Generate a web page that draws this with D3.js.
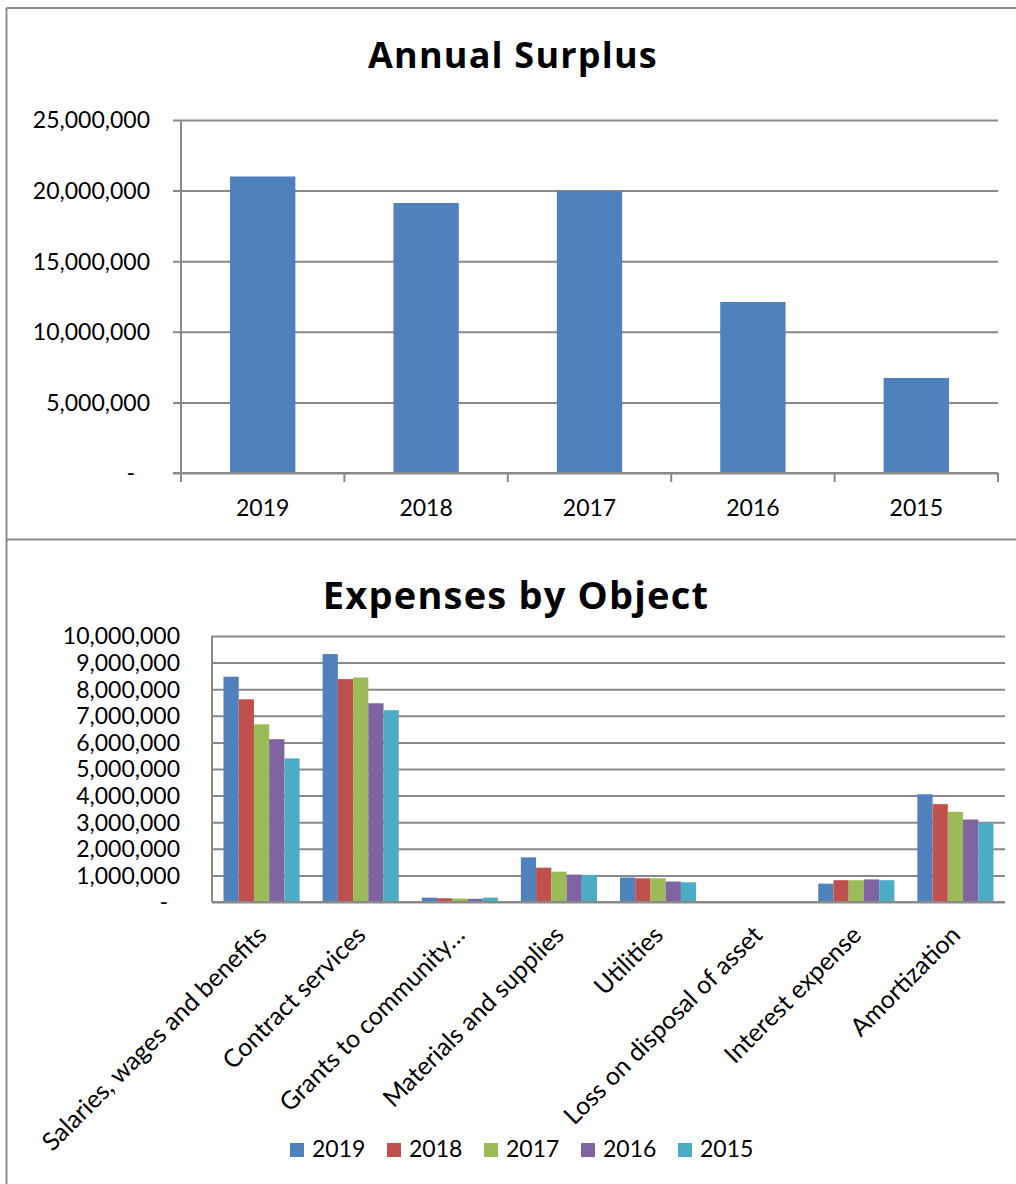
<!DOCTYPE html>
<html>
<head>
<meta charset="utf-8">
<script src="https://cdn.jsdelivr.net/npm/d3@7"></script>
<style>
  body { margin: 0; background: #fff; }
  text { font-family: Lato, "Open Sans", sans-serif; fill: #000; }
  .title { font-family: "Open Sans", Lato, sans-serif; font-weight: 700; }
</style>
</head>
<body>
<svg id="chart" width="1016" height="1184"></svg>
<script>
// ---- Annual Surplus ----
const surplusYears = ["2019", "2018", "2017", "2016", "2015"];
const surplusValues = [21000000, 19120000, 19970000, 12110000, 6730000];
const surplusTicks = [0, 5000000, 10000000, 15000000, 20000000, 25000000];

// ---- Expenses by Object ----
const expenseCategories = [
  "Salaries, wages and benefits",
  "Contract services",
  "Grants to community…",
  "Materials and supplies",
  "Utilities",
  "Loss on disposal of asset",
  "Interest expense",
  "Amortization"
];
const seriesNames = ["2019", "2018", "2017", "2016", "2015"];
const seriesColors = ["#4F81BD", "#C0504D", "#9BBB59", "#8064A2", "#4BACC6"];
const expenses2019 = [8470000, 9320000, 165000, 1680000, 920000, 0, 690000, 4050000];
const expenses2018 = [7620000, 8380000, 140000, 1290000, 890000, 0, 820000, 3680000];
const expenses2017 = [6680000, 8440000, 130000, 1140000, 890000, 0, 820000, 3390000];
const expenses2016 = [6120000, 7470000, 120000, 1030000, 770000, 0, 850000, 3100000];
const expenses2015 = [5400000, 7210000, 165000, 1020000, 740000, 0, 820000, 2970000];
const expenseTicks = [0, 1000000, 2000000, 3000000, 4000000, 5000000,
                      6000000, 7000000, 8000000, 9000000, 10000000];

const expenseSeries = [expenses2019, expenses2018, expenses2017, expenses2016, expenses2015];

const svg = d3.select("#chart");
const frameColor = "#8c8c8c";
const gridColor = "#898989";
const fmt = v => v === 0 ? "-" : d3.format(",")(v);

// panel frames
svg.append("line").attr("x1", 6.5).attr("x2", 1016).attr("y1", 8).attr("y2", 8)
  .attr("stroke", frameColor).attr("stroke-width", 2);
svg.append("line").attr("x1", 6.5).attr("x2", 6.5).attr("y1", 8).attr("y2", 1184)
  .attr("stroke", frameColor).attr("stroke-width", 2);
svg.append("line").attr("x1", 6.5).attr("x2", 1016).attr("y1", 539.5).attr("y2", 539.5)
  .attr("stroke", frameColor).attr("stroke-width", 2);

// ================= Annual Surplus =================
{
  const left = 181, right = 998, top = 120, bottom = 473;
  const x = d3.scaleBand().domain(surplusYears).range([left, right])
    .paddingInner(0.6).paddingOuter(0.3);
  const y = d3.scaleLinear().domain([0, 25000000]).range([bottom, top]);

  svg.append("text").attr("class", "title")
    .attr("x", 513).attr("y", 68).attr("text-anchor", "middle")
    .attr("font-size", 36).attr("letter-spacing", 1.2)
    .text("Annual Surplus");

  const yAxis = svg.append("g").attr("transform", `translate(${left},0)`)
    .call(d3.axisLeft(y).tickValues(surplusTicks).tickFormat(fmt));
  yAxis.select(".domain").remove();
  yAxis.selectAll(".tick line")
    .attr("x1", -8).attr("x2", right - left)
    .attr("stroke", gridColor).attr("stroke-width", 2);
  yAxis.selectAll(".tick text")
    .attr("x", d => d === 0 ? -46 : -31).attr("dy", "0.34em")
    .attr("font-size", 23).attr("font-family", "Lato");

  // bars
  svg.append("g").selectAll("rect").data(surplusValues).join("rect")
    .attr("x", (d, i) => x(surplusYears[i]))
    .attr("width", x.bandwidth())
    .attr("y", d => y(d))
    .attr("height", d => y(0) - y(d))
    .attr("fill", "#4F81BD");

  // axis lines
  svg.append("line").attr("x1", left).attr("x2", left).attr("y1", top).attr("y2", bottom)
    .attr("stroke", gridColor).attr("stroke-width", 2);
  svg.append("line").attr("x1", left - 8).attr("x2", right).attr("y1", bottom).attr("y2", bottom)
    .attr("stroke", gridColor).attr("stroke-width", 2);

  // category boundary ticks
  const bounds = d3.range(surplusYears.length + 1).map(i => left + i * x.step());
  svg.append("g").selectAll("line").data(bounds).join("line")
    .attr("x1", d => d).attr("x2", d => d).attr("y1", bottom).attr("y2", bottom + 9)
    .attr("stroke", gridColor).attr("stroke-width", 2);

  const xAxis = svg.append("g").attr("transform", `translate(0,${bottom})`)
    .call(d3.axisBottom(x).tickSize(0));
  xAxis.select(".domain").remove();
  xAxis.selectAll(".tick text").attr("y", 35).attr("dy", "0.36em")
    .attr("font-size", 23).attr("font-family", "Lato");
}

// ================= Expenses by Object =================
{
  const left = 212, right = 1005, top = 636, bottom = 902;
  const x = d3.scaleBand().domain(expenseCategories).range([left, right])
    .paddingInner(0.232).paddingOuter(0.116);
  const xs = d3.scaleBand().domain(seriesNames).range([0, x.bandwidth()]);
  const y = d3.scaleLinear().domain([0, 10000000]).range([bottom, top]);

  svg.append("text").attr("class", "title")
    .attr("x", 516).attr("y", 609).attr("text-anchor", "middle")
    .attr("font-size", 38).attr("letter-spacing", 1.2)
    .text("Expenses by Object");

  const yAxis = svg.append("g").attr("transform", `translate(${left},0)`)
    .call(d3.axisLeft(y).tickValues(expenseTicks).tickFormat(fmt));
  yAxis.select(".domain").remove();
  yAxis.selectAll(".tick line")
    .attr("x1", 0).attr("x2", right - left)
    .attr("stroke", gridColor).attr("stroke-width", 2);
  yAxis.selectAll(".tick text")
    .attr("x", d => d === 0 ? -44 : -32).attr("dy", "0.34em")
    .attr("font-size", 23).attr("font-family", "Lato");

  // grouped bars
  const groups = svg.append("g").selectAll("g").data(expenseSeries).join("g")
    .attr("fill", (d, i) => seriesColors[i]);
  groups.each(function (vals, si) {
    d3.select(this).selectAll("rect").data(vals).join("rect")
      .attr("x", (d, ci) => x(expenseCategories[ci]) + xs(seriesNames[si]))
      .attr("width", xs.bandwidth())
      .attr("y", d => y(d))
      .attr("height", d => y(0) - y(d));
  });

  svg.append("line").attr("x1", left).attr("x2", left).attr("y1", top).attr("y2", bottom)
    .attr("stroke", gridColor).attr("stroke-width", 2);
  svg.append("line").attr("x1", left).attr("x2", right).attr("y1", bottom).attr("y2", bottom)
    .attr("stroke", gridColor).attr("stroke-width", 2);

  const xAxis = svg.append("g").attr("transform", `translate(0,${bottom})`)
    .call(d3.axisBottom(x).tickSize(0));
  xAxis.select(".domain").remove();
  xAxis.selectAll(".tick text")
    .attr("y", 0).attr("dy", "0.71em")
    .attr("text-anchor", "end")
    .attr("transform", "translate(-6,22) rotate(-45)")
    .attr("font-size", 25).attr("font-family", "Lato");

  // legend
  const itemStep = 97;
  const legendStart = 290;
  const legend = svg.append("g").selectAll("g").data(seriesNames).join("g")
    .attr("transform", (d, i) => `translate(${legendStart + i * itemStep},1143)`);
  legend.append("rect").attr("width", 14).attr("height", 14)
    .attr("fill", (d, i) => seriesColors[i]);
  legend.append("text").attr("x", 22).attr("y", 14)
    .attr("font-size", 23).text(d => d);
}
</script>
</body>
</html>
